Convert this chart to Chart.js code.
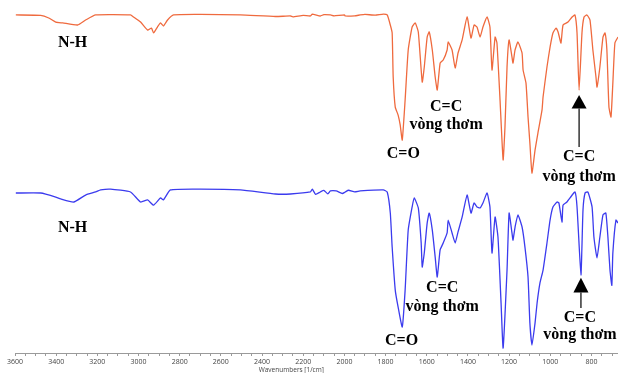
<!DOCTYPE html>
<html><head><meta charset="utf-8">
<script src="https://cdn.jsdelivr.net/npm/chart.js@4/dist/chart.umd.min.js"></script>
<style>html,body{margin:0;padding:0;background:#fff}#w{width:618px;height:373px}</style>
</head><body><div id="w"><canvas id="c"></canvas></div>
<script>
// Wavenumbers (1/cm) and transmittance (%) for the upper (orange) spectrum
const wnTop = [3596,3475,3436,3402,3368,3296,3257,3208,3039,3024,2990,2956,2937,2927,2908,2893,2879,2859,2830,2699,2505,2335,2262,2250,2200,2165,2156,2117,2100,2068,2050,2000,1996,1950,1923,1900,1850,1811,1792,1777,1768,1763,1753,1739,1729,1719,1705,1690,1671,1656,1641,1622,1612,1598,1588,1573,1559,1549,1535,1520,1501,1496,1477,1462,1448,1428,1404,1385,1370,1356,1341,1327,1307,1293,1283,1268,1259,1244,1229,1220,1210,1200,1186,1181,1171,1157,1137,1132,1118,1108,1099,1089,1074,1060,1040,1035,1016,1001,987,972,962,948,938,914,894,880,870,860,846,836,822,807,793,778,773,759,744,734,725,715,705,696,686,671];
const transTop = [97.1,96.8,95.3,92.9,92.4,91.2,94.1,97.1,97.1,95.9,92.9,88.2,89.4,86.5,90.0,92.4,90.6,94.1,97.1,97.4,97.1,96.2,96.5,96.0,96.8,96.5,97.6,96.5,97.3,97.1,96.6,97.2,96.5,96.6,97.1,97.4,97.0,97.6,97.1,91.2,86.5,60.6,42.9,38.2,32.4,23.5,47.1,76.5,90.0,92.4,87.1,57.6,66.5,84.1,87.1,76.5,60.6,52.9,68.8,70.6,76.5,81.2,76.5,65.9,74.7,82.4,95.9,83.5,91.2,90.0,84.1,90.0,95.9,90.0,64.7,84.1,80.6,47.1,11.8,31.2,66.5,82.4,72.4,68.8,76.5,81.2,74.7,64.7,57.1,37.1,21.8,4.1,17.6,27.6,41.2,48.8,66.5,78.2,86.5,89.4,87.1,80.6,91.2,92.9,95.9,97.1,86.5,52.9,86.5,95.9,97.1,94.1,76.5,60.6,54.7,66.5,84.1,86.5,76.5,42.9,37.1,57.1,80.6,84.1];

// Wavenumbers (1/cm) and transmittance (%) for the lower (blue) spectrum
const wnBottom = [3596,3475,3451,3402,3378,3315,3257,3208,3184,3136,3039,2990,2956,2927,2893,2879,2845,2699,2505,2335,2262,2165,2156,2140,2117,2100,2080,2068,2040,2010,1996,1980,1950,1923,1811,1792,1777,1768,1753,1739,1719,1705,1690,1671,1661,1641,1627,1622,1612,1598,1588,1573,1559,1549,1535,1520,1501,1496,1477,1462,1448,1428,1404,1385,1370,1356,1341,1327,1307,1293,1283,1268,1254,1239,1229,1210,1200,1186,1181,1171,1157,1137,1123,1108,1099,1089,1074,1064,1050,1035,1016,1001,987,967,958,943,938,919,904,880,870,851,841,831,817,797,788,773,759,744,730,720,710,701,696,681,671];
const transBottom = [95.3,95.3,94.7,92.9,91.8,90.0,94.1,95.9,97.1,97.6,95.9,90.0,91.2,88.2,92.4,91.2,97.1,97.6,97.1,94.7,94.7,95.9,97.6,94.5,95.9,96.8,94.8,96.5,96.5,95.0,95.9,96.9,96.0,96.5,97.1,95.9,83.5,63.5,38.2,28.2,16.5,38.2,73.5,87.1,92.4,86.5,65.9,51.8,60.0,77.6,83.5,73.5,57.6,45.9,61.8,65.9,71.8,79.4,71.8,65.9,72.4,81.2,94.1,83.5,89.4,87.1,86.5,89.4,95.3,87.1,60.0,81.2,69.4,30.6,4.1,50.0,83.5,71.8,67.6,75.3,82.4,75.3,63.5,45.9,18.8,5.9,18.8,30.6,42.4,50.0,65.9,79.4,87.1,90.0,89.4,78.2,88.2,90.0,92.4,95.9,87.1,47.1,85.3,95.3,95.9,87.1,69.4,57.1,69.4,82.4,83.5,69.4,50.0,41.0,60.0,79.4,77.6];

// Axis tick labels
const tickLabels = [3600,3400,3200,3000,2800,2600,2400,2200,2000,1800,1600,1400,1200,1000,800];
const axisTitle = 'Wavenumbers [1/cm]';

// Annotations: [text, wavenumber, transmittance, which spectrum]
const notes = [
  ['N-H', 3320, 80.6, 'top'],
  ['C=O', 1714, 15.3, 'top'],
  ['C=C', 1506, 42.9, 'top'],
  ['vòng thơm', 1506, 32.4, 'top'],
  ['C=C', 860, 13.5, 'top'],
  ['vòng thơm', 860, 1.8, 'top'],
  ['N-H', 3320, 74.7, 'bottom'],
  ['C=O', 1722, 8.2, 'bottom'],
  ['C=C', 1525, 39.4, 'bottom'],
  ['vòng thơm', 1525, 28.2, 'bottom'],
  ['C=C', 856, 21.8, 'bottom'],
  ['vòng thơm', 856, 11.8, 'bottom']
];
// Arrows: [wavenumber, tip value, base value, tail value, spectrum]
const arrows = [
  [860, 50.0, 42.0, 19.4, 'top'],
  [851, 45.5, 36.8, 27.6, 'bottom']
];

const toPts = (xs, ys) => xs.map((x, i) => ({x, y: ys[i]}));

const annotPlugin = {
  id: 'annot',
  afterDatasetsDraw(chart) {
    const ctx = chart.ctx, xs = chart.scales.x;
    const ysc = {top: chart.scales.yTop, bottom: chart.scales.yBot};
    ctx.save();
    ctx.fillStyle = '#000';
    ctx.font = 'bold 16px "Liberation Serif", "Times New Roman", serif';
    ctx.textAlign = 'center';
    ctx.textBaseline = 'middle';
    notes.forEach(([t, wn, v, s]) => {
      ctx.fillText(t, xs.getPixelForValue(wn), ysc[s].getPixelForValue(v));
    });
    arrows.forEach(([wn, tip, base, tail, s]) => {
      const x = xs.getPixelForValue(wn), y = ysc[s];
      const yt = y.getPixelForValue(tip), yb = y.getPixelForValue(base), yl = y.getPixelForValue(tail);
      ctx.beginPath();
      ctx.moveTo(x, yt); ctx.lineTo(x - 7.5, yb); ctx.lineTo(x + 7.5, yb); ctx.closePath();
      ctx.fill();
      ctx.beginPath(); ctx.lineWidth = 1.2; ctx.strokeStyle = '#000';
      ctx.moveTo(x, yb); ctx.lineTo(x, yl); ctx.stroke();
    });
    // axis title
    ctx.font = '6.5px "Open Sans", "DejaVu Sans", sans-serif';
    ctx.fillStyle = '#444';
    ctx.textBaseline = 'top';
    ctx.fillText(axisTitle, xs.getPixelForValue(2258), 367);
    ctx.restore();
  }
};

new Chart(document.getElementById('c'), {
  type: 'line',
  data: {
    datasets: [
      {data: toPts(wnTop, transTop), borderColor: '#EF6A3E', borderWidth: 1.3, pointRadius: 0, tension: 0.15, yAxisID: 'yTop'},
      {data: toPts(wnBottom, transBottom), borderColor: '#3B3BEE', borderWidth: 1.3, pointRadius: 0, tension: 0.15, yAxisID: 'yBot'}
    ]
  },
  options: {
    responsive: true, maintainAspectRatio: false, animation: false,
    layout: {padding: {left: 15, right: 0, top: 0, bottom: 0}},
    plugins: {legend: {display: false}, tooltip: {enabled: false}},
    scales: {
      x: {
        type: 'linear', reverse: true, min: 671, max: 3600,
        afterFit: s => { s.height = 20; },
        border: {display: true, color: '#9a9a9a'},
        grid: {display: true, drawOnChartArea: false, drawTicks: true, tickLength: 3, color: '#9a9a9a'},
        ticks: {
          stepSize: 50, autoSkip: false, maxRotation: 0, includeBounds: false, padding: 2,
          color: '#444', font: {size: 7, family: '"Open Sans", "DejaVu Sans", sans-serif'},
          callback: v => tickLabels.includes(v) ? String(v) : ''
        }
      },
      yTop: {display: false, min: -101.8, max: 105.9},
      yBot: {display: false, min: 1.2, max: 208.8}
    }
  },
  plugins: [annotPlugin]
});
</script></body></html>
